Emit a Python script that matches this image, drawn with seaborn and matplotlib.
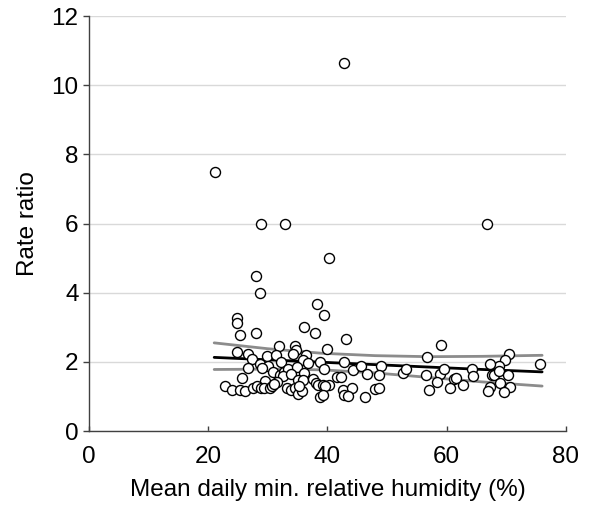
import matplotlib
matplotlib.use("Agg")
import matplotlib.pyplot as plt
import seaborn as sns
import pandas as pd

# Humidity (%) and rate ratio for each location
humidity = [
    21.2, 42.7, 28.9, 32.9, 66.8, 40.3, 28.0, 28.7,
    24.8, 24.8, 25.4, 28.0, 38.3, 39.4, 36.1, 37.9, 31.9, 34.6, 34.7, 34.3,
    39.9, 24.8, 26.6, 27.3, 29.8, 31.4, 32.2, 36.4, 35.9, 36.8, 38.8, 28.6,
    30.0, 29.1, 26.6, 30.8, 32.0, 32.7, 33.4, 34.9, 36.1, 39.4, 32.6, 33.8,
    35.1, 35.9, 31.6, 29.6, 25.7, 37.5, 38.0, 38.4, 39.2, 40.3, 39.6, 22.8,
    24.0, 25.3, 26.2, 27.5, 28.1, 28.9, 29.4, 30.3, 30.7, 31.0, 33.2, 33.8,
    34.6, 35.1, 35.7, 35.3, 38.8, 39.3, 41.6,
    43.1, 59.1, 56.7, 70.5, 69.8, 68.8, 67.2, 75.6, 42.7, 44.2, 45.7, 46.7,
    49.0, 48.7, 52.6, 53.1, 56.6, 58.8, 59.5, 58.4, 61.2, 60.6, 62.8, 64.2,
    64.4, 67.6, 68.0, 68.8, 70.2, 68.9, 70.6, 67.2, 66.9, 69.6, 57.0, 42.3,
    42.6, 42.8, 44.1, 46.3, 48.0, 48.7, 61.6, 43.5,
]
rate_ratio = [
    7.50, 10.65, 6.00, 6.00, 6.00, 5.00, 4.49, 3.99,
    3.28, 3.12, 2.79, 2.84, 3.66, 3.35, 3.00, 2.83, 2.45, 2.45, 2.33, 2.24,
    2.36, 2.29, 2.22, 2.07, 2.17, 2.19, 1.99, 2.21, 2.04, 1.97, 1.99, 1.95,
    1.89, 1.82, 1.81, 1.71, 1.61, 1.71, 1.80, 1.85, 1.68, 1.79, 1.58, 1.64,
    1.49, 1.49, 1.43, 1.46, 1.53, 1.50, 1.40, 1.33, 1.34, 1.33, 1.29, 1.29,
    1.18, 1.18, 1.15, 1.23, 1.29, 1.25, 1.25, 1.25, 1.29, 1.35, 1.23, 1.18,
    1.23, 1.06, 1.15, 1.29, 0.98, 1.05, 1.56,
    2.66, 2.50, 2.14, 2.24, 2.04, 1.88, 1.95, 1.93, 1.99, 1.76, 1.88, 1.66,
    1.89, 1.62, 1.68, 1.80, 1.61, 1.64, 1.80, 1.43, 1.51, 1.25, 1.32, 1.78,
    1.59, 1.61, 1.61, 1.73, 1.61, 1.40, 1.27, 1.27, 1.16, 1.13, 1.19, 1.56,
    1.18, 1.03, 1.25, 0.99, 1.21, 1.23, 1.53, 1.02,
]

# Fitted trend and its confidence band
fit_x = [21, 30, 39, 48, 57, 66, 76]
fit_mid = [2.13, 2.06, 1.99, 1.92, 1.85, 1.78, 1.71]
fit_upper = [2.55, 2.38, 2.25, 2.18, 2.15, 2.16, 2.19]
fit_lower = [1.78, 1.79, 1.77, 1.68, 1.55, 1.42, 1.30]

x_ticks = [0, 20, 40, 60, 80]
y_ticks = [0, 2, 4, 6, 8, 10, 12]

sns.set_theme(style="white")
plt.rcParams["font.family"] = ["Liberation Sans", "DejaVu Sans"]
plt.rcParams["text.color"] = "black"
plt.rcParams["axes.labelcolor"] = "black"
plt.rcParams["xtick.labelcolor"] = "black"
plt.rcParams["ytick.labelcolor"] = "black"

points = pd.DataFrame({"humidity": humidity, "rr": rate_ratio})
fit = pd.DataFrame({"x": fit_x, "mid": fit_mid, "upper": fit_upper, "lower": fit_lower})

fig = plt.figure(figsize=(5.94, 5.16), dpi=100)
ax = fig.add_axes([0.1498, 0.1647, 0.803, 0.804])

sns.lineplot(data=fit, x="x", y="upper", ax=ax, color="#8c8c8c", linewidth=2.0, zorder=2)
sns.lineplot(data=fit, x="x", y="lower", ax=ax, color="#8c8c8c", linewidth=2.0, zorder=2)
sns.lineplot(data=fit, x="x", y="mid", ax=ax, color="black", linewidth=2.0, zorder=3)
sns.scatterplot(data=points, x="humidity", y="rr", ax=ax, s=52, facecolor="white",
                edgecolor="black", linewidth=1.0, zorder=4)

ax.set_xlim(0, 80)
ax.set_ylim(0, 12)
ax.set_xticks(x_ticks)
ax.set_yticks(y_ticks)
ax.yaxis.grid(True, color="#d9d9d9", linewidth=1.0, zorder=0)
ax.xaxis.grid(False)
ax.set_axisbelow(True)

for side in ("top", "right"):
    ax.spines[side].set_visible(False)
for side in ("left", "bottom"):
    ax.spines[side].set_color("#404040")
    ax.spines[side].set_linewidth(1.0)

ax.tick_params(axis="y", direction="out", length=4.5, width=1.0, color="#404040",
               labelsize=17.5, labelcolor="black", pad=3, left=True)
ax.tick_params(axis="x", direction="in", length=3.5, width=1.0, color="#404040",
               labelsize=17.5, labelcolor="black", pad=11, bottom=True)

ax.set_xlabel("Mean daily min. relative humidity (%)", fontsize=17.5, labelpad=8, color="black")
ax.set_ylabel("Rate ratio", fontsize=17.5, labelpad=9, color="black")

fig.savefig("out.png", dpi=100)
